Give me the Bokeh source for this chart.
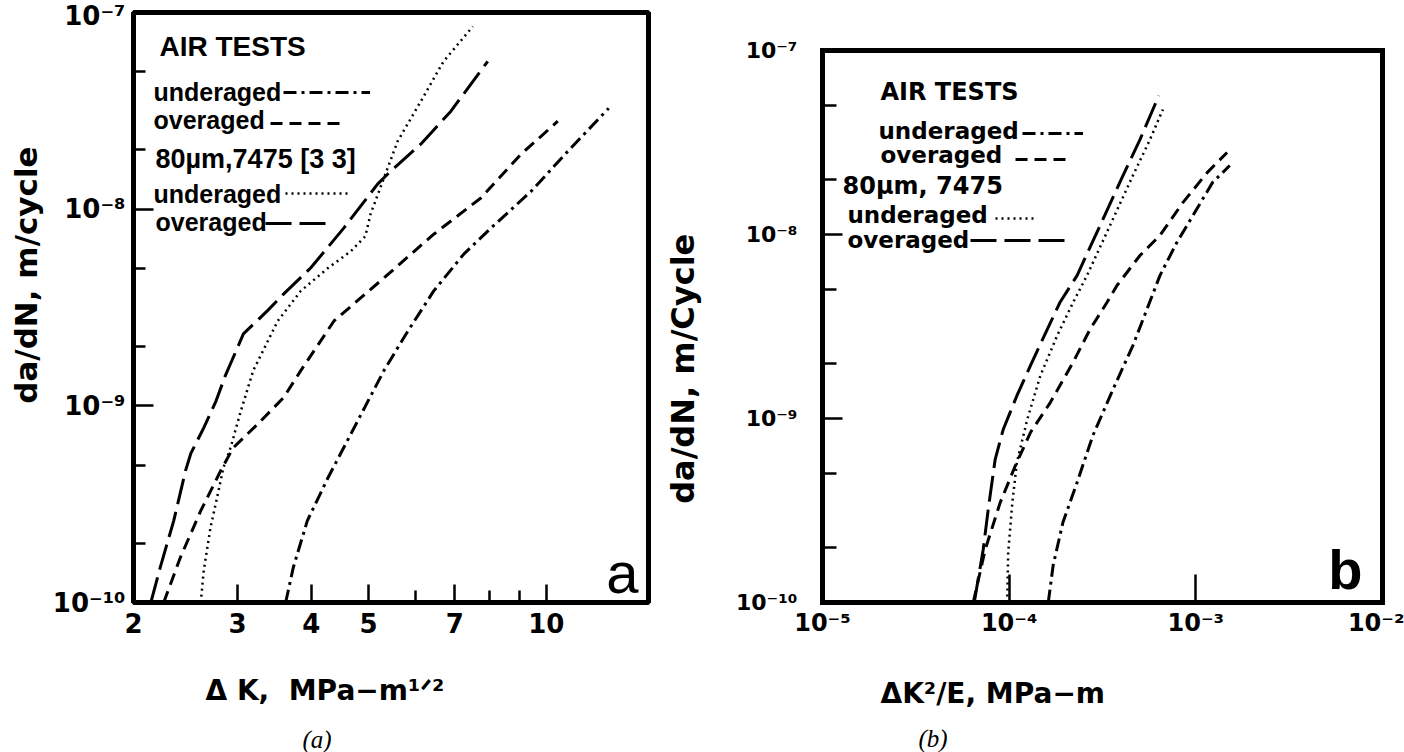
import math
from bokeh.plotting import figure
from bokeh.layouts import row
from bokeh.models import (FixedTicker, CustomJSTickFormatter, Label, Legend,
                          LegendItem, Range1d, Title, LogAxis, Span)
from bokeh.core.properties import value
from bokeh.embed import file_html
from bokeh.resources import INLINE

# ---------------- data: panel (a)  x = Delta K (MPa m^1/2), y = da/dN (m/cycle)
a_under_dk = [3.62, 3.73, 3.94, 4.27, 4.67, 5.31, 5.83, 6.45, 7.25, 8.06, 9.42, 10.88, 12.76]
a_under_rate = [1.0e-10, 1.51e-10, 2.61e-10, 4.31e-10, 7.21e-10, 1.51e-9, 2.40e-9, 3.84e-9,
                5.91e-9, 8.01e-9, 1.23e-8, 1.97e-8, 3.26e-8]
a_over_dk = [2.25, 2.40, 2.60, 2.81, 2.95, 3.25, 3.59, 3.84, 4.37, 5.31, 6.45, 7.75, 9.06, 10.46]
a_over_rate = [1.0e-10, 1.69e-10, 2.93e-10, 4.68e-10, 6.12e-10, 8.10e-10, 1.10e-9, 1.51e-9,
               2.70e-9, 4.47e-9, 7.46e-9, 1.14e-8, 1.90e-8, 2.80e-8]
a_80under_dk = [2.60, 2.63, 2.70, 2.77, 2.84, 2.92, 3.04, 3.19, 3.51, 3.84, 4.27, 4.67, 4.94,
                5.04, 5.31, 5.60, 6.13, 6.70, 7.51]
a_80under_rate = [1.0e-10, 1.45e-10, 2.40e-10, 3.41e-10, 4.85e-10, 6.12e-10, 9.43e-10, 1.51e-9,
                  2.70e-9, 3.84e-9, 5.02e-9, 6.12e-9, 7.29e-9, 9.43e-9, 1.44e-8, 2.21e-8,
                  3.53e-8, 5.64e-8, 8.49e-8]
a_80over_dk = [2.14, 2.22, 2.34, 2.45, 2.50, 2.63, 2.76, 2.86, 3.07, 3.37, 3.59, 3.99, 4.54,
               5.18, 5.45, 6.13, 6.89, 7.96]
a_80over_rate = [1.0e-10, 1.51e-10, 2.61e-10, 4.68e-10, 5.71e-10, 7.73e-10, 1.06e-9, 1.42e-9,
                 2.32e-9, 3.04e-9, 3.70e-9, 5.02e-9, 8.01e-9, 1.34e-8, 1.56e-8, 2.14e-8,
                 3.14e-8, 5.64e-8]

# ---------------- data: panel (b)  x = Delta K^2 / E (MPa m), y = da/dN (m/cycle)
b_under_x = [1.62e-4, 1.72e-4, 1.94e-4, 2.31e-4, 2.81e-4, 3.60e-4, 4.60e-4, 5.21e-4, 6.42e-4,
             7.91e-4, 1.01e-3, 1.23e-3, 1.52e-3]
b_under_rate = [1.0e-10, 1.59e-10, 2.72e-10, 4.49e-10, 8.09e-10, 1.44e-9, 2.49e-9, 3.45e-9,
                5.98e-9, 9.05e-9, 1.37e-8, 1.92e-8, 2.37e-8]
b_over_x = [6.42e-5, 7.44e-5, 8.95e-5, 1.08e-4, 1.30e-4, 1.66e-4, 2.20e-4, 2.71e-4, 3.34e-4,
            3.78e-4, 5.02e-4, 6.42e-4, 8.52e-4, 1.15e-3, 1.47e-3]
b_over_rate = [1.0e-10, 1.94e-10, 3.49e-10, 5.55e-10, 8.39e-10, 1.22e-9, 2.02e-9, 3.05e-9,
               4.27e-9, 5.28e-9, 7.69e-9, 9.88e-9, 1.49e-8, 2.17e-8, 2.79e-8]
b_80under_x = [9.76e-5, 9.88e-5, 1.04e-4, 1.10e-4, 1.25e-4, 1.47e-4, 1.81e-4, 2.20e-4, 2.61e-4,
               3.47e-4, 4.60e-4, 5.68e-4, 6.66e-4]
b_80under_rate = [1.0e-10, 1.87e-10, 3.49e-10, 5.77e-10, 9.88e-10, 1.71e-9, 2.83e-9, 4.27e-9,
                  5.98e-9, 1.12e-8, 2.09e-8, 3.28e-8, 4.78e-8]
b_80over_x = [6.5e-5, 7.26e-5, 7.72e-5, 8.41e-5, 9.29e-5, 1.10e-4, 1.30e-4, 1.60e-4, 1.87e-4,
              2.31e-4, 3.07e-4, 4.07e-4, 5.02e-4, 6.34e-4]
b_80over_rate = [1.0e-10, 1.94e-10, 3.20e-10, 5.98e-10, 8.71e-10, 1.33e-9, 1.94e-9, 3.05e-9,
                 4.27e-9, 5.98e-9, 1.12e-8, 2.09e-8, 3.28e-8, 5.69e-8]

# ---------------- ticks and labels
y_ticks = [1e-10, 1e-9, 1e-8, 1e-7]
y_tick_labels = ["10⁻¹⁰", "10⁻⁹", "10⁻⁸", "10⁻⁷"]
y_minor = [2e-10, 5e-10, 2e-9, 5e-9, 2e-8, 5e-8]
a_x_ticks = [2, 3, 4, 5, 7, 10]
a_x_tick_labels = ["2", "3", "4", "5", "7", "10"]
a_x_minor = [6, 8, 9]
b_x_ticks = [1e-5, 1e-4, 1e-3, 1e-2]
b_x_tick_labels = ["10⁻⁵", "10⁻⁴", "10⁻³", "10⁻²"]

legend_a = ["AIR TESTS", "underaged", "overaged", "80µm,7475 [3 3]", "underaged", "overaged"]
legend_b = ["AIR TESTS", "underaged", "overaged", "80µm, 7475", "underaged", "overaged"]
titles_a = ["Δ K,\u00a0 MPa−m¹ᐟ²", "da/dN, m/cycle", "(a)", "a"]
titles_b = ["ΔK²/E, MPa−m", "da/dN, m/Cycle", "(b)", "b"]

# ---------------- styles / layout constants
DASH = {"under": "13 5 3 5", "over": "12 7", "u80": "2 4", "o80": "26 8"}
SANS = "Liberation Sans"
DJV = "DejaVu Sans"
SERIF = "Liberation Serif"
NB = "\u00a0"
B_TOP = 10 ** (-10 + 590 / 184)   # panel (b): frame extends above its drawn box

FMT_CODE = """
let best = -1, bd = 1e9;
for (let i = 0; i < vals.length; i++) {
  const d = Math.abs(Math.log10(vals[i]) - Math.log10(tick));
  if (d < bd) { bd = d; best = i; }
}
return bd < 1e-6 ? labs[best] : "";
"""


def fmt(vals, labs):
    return CustomJSTickFormatter(args=dict(vals=vals, labs=labs), code=FMT_CODE)


def base_fig(w, h, bl, br, bt, bb, xr, yr):
    p = figure(width=w, height=h, x_axis_type="log", y_axis_type="log", title=None,
               x_range=xr, y_range=yr, output_backend="svg", toolbar_location=None,
               min_border_left=bl, min_border_right=br, min_border_top=bt,
               min_border_bottom=bb)
    p.grid.visible = False
    p.background_fill_color = "white"
    p.border_fill_color = "white"
    p.outline_line_color = "black"
    p.outline_line_width = 5
    for ax in (p.xaxis[0], p.yaxis[0]):
        ax.axis_line_color = None
        ax.major_tick_out = 0
        ax.minor_tick_out = 0
        ax.major_tick_line_color = "black"
        ax.minor_tick_line_color = "black"
        ax.major_tick_line_width = 2.5
        ax.minor_tick_line_width = 2.5
        ax.major_label_text_color = "black"
        ax.major_label_text_font = DJV
        ax.major_label_text_font_style = "bold"
        ax.axis_label_text_color = "black"
    # invisible spacer label under the x axis (keeps the titles below in place)
    p.xaxis.axis_label = NB
    p.xaxis.axis_label_text_font_size = "1px"
    return p


def add_curves(p, data):
    rs = {}
    for key, xs, ys in data:
        w = 2.5 if key == "u80" else 3
        rs[key] = p.line(xs, ys, line_color="black", line_width=w, line_dash=DASH[key])
    return rs


def add_sample(p, r, loc, width):
    lg = Legend(items=[LegendItem(label=value(" "), renderers=[r])], location=loc,
                glyph_width=width, glyph_height=10, label_height=10,
                label_text_font_size="2px", padding=0, margin=0, spacing=0,
                label_standoff=0, border_line_color=None, background_fill_alpha=0)
    p.add_layout(lg)


def add_text(p, text, x, y, size, font, style="bold", align="left"):
    p.add_layout(Label(x=x, y=y, x_units="screen", y_units="screen", text=text,
                       text_font=font, text_font_size=f"{size}px",
                       text_font_style=style, text_align=align,
                       text_baseline="middle", text_color="black"))


def add_title(p, text, offset, standoff, size, font, style, valign="top"):
    p.add_layout(Title(text=text, align="left", offset=offset, vertical_align=valign,
                       standoff=standoff, text_font=font, text_font_size=f"{size}px",
                       text_font_style=style, text_color="black"), "below")


# ======================= panel (a)
pa = base_fig(654, 752, 133, 6, 12, 150, Range1d(2, 14.9), Range1d(1e-10, 1e-7))
pa.xaxis.ticker = FixedTicker(ticks=a_x_ticks, minor_ticks=a_x_minor)
pa.xaxis.formatter = fmt(a_x_ticks, a_x_tick_labels)
pa.xaxis.major_tick_in = 18
pa.xaxis.minor_tick_in = 12
pa.xaxis.major_label_text_font_size = "26px"
pa.xaxis.major_label_standoff = 10
pa.xaxis.axis_label_standoff = 20
pa.yaxis.ticker = FixedTicker(ticks=y_ticks, minor_ticks=y_minor)
pa.yaxis.formatter = fmt(y_ticks, y_tick_labels)
pa.yaxis.major_tick_in = 20
pa.yaxis.minor_tick_in = 12
pa.yaxis.major_label_text_font_size = "26px"
pa.yaxis.major_label_standoff = 8
pa.yaxis.axis_label = NB * 6 + titles_a[1]
pa.yaxis.axis_label_text_font = DJV
pa.yaxis.axis_label_text_font_size = "31px"
pa.yaxis.axis_label_text_font_style = "bold"
pa.yaxis.axis_label_standoff = 6

ra = add_curves(pa, [("under", a_under_dk, a_under_rate), ("over", a_over_dk, a_over_rate),
                     ("u80", a_80under_dk, a_80under_rate), ("o80", a_80over_dk, a_80over_rate)])
add_sample(pa, ra["under"], (150, 505), 87)
add_sample(pa, ra["over"], (137, 474), 73)
add_sample(pa, ra["u80"], (152, 404), 63)
add_sample(pa, ra["o80"], (132, 374), 65)

add_text(pa, legend_a[0], 26, 556, 28, SANS)
add_text(pa, legend_a[1], 20, 511, 25, SANS)
add_text(pa, legend_a[2], 20, 483, 25, SANS)
add_text(pa, legend_a[3], 22, 444, 27, SANS)
add_text(pa, legend_a[4], 20, 409, 25, SANS)
add_text(pa, legend_a[5], 22, 381, 25, SANS)
add_text(pa, titles_a[3], 505, 30, 58, SANS, style="normal", align="right")
add_title(pa, titles_a[0], 72, 29, 28, DJV, "bold")
add_title(pa, titles_a[2], 169, 0, 25, SERIF, "italic", valign="bottom")

# ======================= panel (b)
pb = base_fig(750, 752, 168, 22, 12, 150, Range1d(1e-5, 1e-2), Range1d(1e-10, B_TOP))
pb.outline_line_color = None
pb.xaxis.ticker = FixedTicker(ticks=b_x_ticks, minor_ticks=[])
pb.xaxis.formatter = fmt(b_x_ticks, b_x_tick_labels)
pb.xaxis.major_tick_in = 28
pb.xaxis.major_label_text_font_size = "24px"
pb.xaxis.major_label_standoff = 6
pb.xaxis.axis_label_standoff = 23
pb.xaxis.axis_line_color = "black"
pb.xaxis.axis_line_width = 5
pb.xaxis.axis_line_cap = "square"
pb.yaxis.ticker = FixedTicker(ticks=y_ticks, minor_ticks=y_minor)
pb.yaxis.formatter = fmt(y_ticks, y_tick_labels)
pb.yaxis.major_tick_in = 20
pb.yaxis.minor_tick_in = 14
pb.yaxis.major_label_text_font_size = "22px"
pb.yaxis.major_label_standoff = 25
pb.yaxis.bounds = (1e-10, 1e-7)
pb.yaxis.axis_line_color = "black"
pb.yaxis.axis_line_width = 5
pb.yaxis.axis_line_cap = "square"
pb.yaxis.axis_label = titles_b[1] + NB * 11
pb.yaxis.axis_label_text_font = DJV
pb.yaxis.axis_label_text_font_size = "32px"
pb.yaxis.axis_label_text_font_style = "bold"
pb.yaxis.axis_label_standoff = 31

right_edge = LogAxis(ticker=FixedTicker(ticks=[]), bounds=(1e-10, 1e-7),
                     axis_line_width=5, axis_line_color="black", axis_line_cap="square",
                     major_tick_in=0, major_tick_out=0, minor_tick_in=0, minor_tick_out=0,
                     major_label_text_font_size="1px")
pb.add_layout(right_edge, "right")
pb.add_layout(Span(location=1e-7, dimension="width", line_color="black", line_width=5,
                   line_cap="square"))

rb = add_curves(pb, [("under", b_under_x, b_under_rate), ("over", b_over_x, b_over_rate),
                     ("u80", b_80under_x, b_80under_rate), ("o80", b_80over_x, b_80over_rate)])
add_sample(pb, rb["under"], (200, 464), 61)
add_sample(pb, rb["over"], (193, 438), 53)
add_sample(pb, rb["u80"], (173, 379), 42)
add_sample(pb, rb["o80"], (148, 357), 95)

add_text(pb, legend_b[0], 58, 511, 24, DJV)
add_text(pb, legend_b[1], 56, 472, 23, DJV)
add_text(pb, legend_b[2], 58, 448, 23, DJV)
add_text(pb, legend_b[3], 20, 417, 24, DJV)
add_text(pb, legend_b[4], 25, 388, 23, DJV)
add_text(pb, legend_b[5], 25, 363, 23, DJV)
add_text(pb, titles_b[3], 540, 33, 56, SANS, style="bold", align="right")
add_title(pb, titles_b[0], 58, 21, 28, DJV, "bold")
add_title(pb, titles_b[2], 96, 0, 25, SERIF, "italic", valign="bottom")

layout = row(pa, pb)
open("out.html", "w").write(file_html(layout, INLINE))
